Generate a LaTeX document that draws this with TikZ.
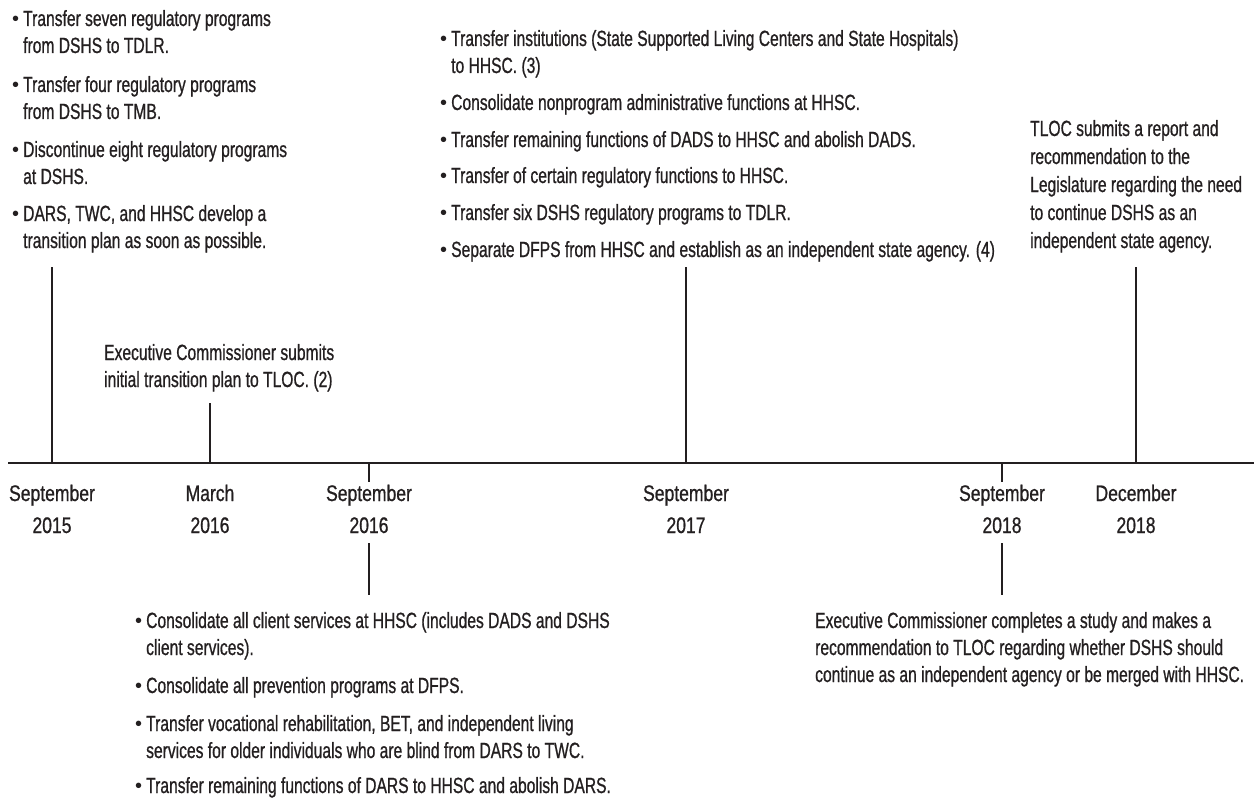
\documentclass[tikz,border=0pt]{standalone}
\usepackage{fontspec}
\setmainfont{Liberation Sans}[FakeStretch=0.71,FakeBold=0.8]
\newfontfamily\datefont{Liberation Sans}[FakeStretch=0.78,FakeBold=0.8]
\newfontfamily\bulfont{Liberation Sans}
\definecolor{ink}{HTML}{231F20}
\newcommand\mybul{\makebox[0pt][r]{{\bulfont\fontsize{20}{20}\selectfont\raisebox{0.5pt}{•}}\hspace{4pt}}}
\newcommand\mylines[1]{\begin{tabular}[t]{@{}l@{}}#1\end{tabular}}
\tikzset{
  txt/.style={anchor=base west, inner sep=0pt, text=ink, font=\fontsize{22}{27}\selectfont},
  txtw/.style={anchor=base west, inner sep=0pt, text=ink, font=\fontsize{22}{28}\selectfont},
  datelbl/.style={anchor=base, inner sep=0pt, text=ink, font=\datefont\fontsize{22.5}{27}\selectfont},
  tickline/.style={draw=ink, line width=2pt},
  axisline/.style={draw=ink, line width=2.2pt}
}
\begin{document}
\begin{tikzpicture}[x=1pt,y=-1pt]
\useasboundingbox (0,0) rectangle (1254,800);
% axis
\coordinate (ax0) at (8,463);
\coordinate (ax1) at (1254,463);
\draw[axisline] (ax0) -- (ax1);
% tick points on the axis
\coordinate (s15) at (52,463);
\coordinate (m16) at (210,463);
\coordinate (s16) at (369,463);
\coordinate (s17) at (686,463);
\coordinate (s18) at (1002,463);
\coordinate (d18) at (1136,463);
% tick free ends
\coordinate (s15t) at (52,267);
\coordinate (m16t) at (210,403);
\coordinate (s17t) at (686,267);
\coordinate (d18t) at (1136,267);
\coordinate (s16a) at (369,482);
\coordinate (s16b) at (369,543);
\coordinate (s16c) at (369,595);
\coordinate (s18a) at (1002,482);
\coordinate (s18b) at (1002,543);
\coordinate (s18c) at (1002,595);
\draw[tickline] (s15) -- (s15t);
\draw[tickline] (m16) -- (m16t);
\draw[tickline] (s17) -- (s17t);
\draw[tickline] (d18) -- (d18t);
\draw[tickline] (s16) -- (s16a);
\draw[tickline] (s16b) -- (s16c);
\draw[tickline] (s18) -- (s18a);
\draw[tickline] (s18b) -- (s18c);
% date labels
\node[datelbl] (mo1) at (52,501) {September};
\node[datelbl] (yr1) at (52,533) {2015};
\node[datelbl] (mo2) at (210,501) {March};
\node[datelbl] (yr2) at (210,533) {2016};
\node[datelbl] (mo3) at (369,501) {September};
\node[datelbl] (yr3) at (369,533) {2016};
\node[datelbl] (mo4) at (686,501) {September};
\node[datelbl] (yr4) at (686,533) {2017};
\node[datelbl] (mo5) at (1002,501) {September};
\node[datelbl] (yr5) at (1002,533) {2018};
\node[datelbl] (mo6) at (1136,501) {December};
\node[datelbl] (yr6) at (1136,533) {2018};
% top left block (September 2015)
\node[txt] (l1) at (23,26) {\mylines{\mybul Transfer seven regulatory programs\\from DSHS to TDLR.}};
\node[txt] (l2) at (23,92) {\mylines{\mybul Transfer four regulatory programs\\from DSHS to TMB.}};
\node[txt] (l3) at (23,157) {\mylines{\mybul Discontinue eight regulatory programs\\at DSHS.}};
\node[txt] (l4) at (23,221) {\mylines{\mybul DARS, TWC, and HHSC develop a\\transition plan as soon as possible.}};
% March 2016
\node[txt] (ex1) at (104,360) {\mylines{Executive Commissioner submits\\initial transition plan to TLOC. (2)}};
% September 2017
\node[txt] (m1) at (451,46) {\mylines{\mybul Transfer institutions (State Supported Living Centers and State Hospitals)\\to HHSC. (3)}};
\node[txt] (m2) at (451,110) {\mybul Consolidate nonprogram administrative functions at HHSC.};
\node[txt] (m3) at (451,147) {\mybul Transfer remaining functions of DADS to HHSC and abolish DADS.};
\node[txt] (m4) at (451,183) {\mybul Transfer of certain regulatory functions to HHSC.};
\node[txt] (m5) at (451,220) {\mybul Transfer six DSHS regulatory programs to TDLR.};
\node[txt] (m6) at (451,257) {\mybul Separate DFPS from HHSC and establish as an independent state agency. (4)};
% December 2018
\node[txtw] (tl) at (1030,136) {\mylines{TLOC submits a report and\\recommendation to the\\Legislature regarding the need\\to continue DSHS as an\\independent state agency.}};
% September 2016
\node[txt] (b1) at (146,628) {\mylines{\mybul Consolidate all client services at HHSC (includes DADS and DSHS\\client services).}};
\node[txt] (b2) at (146,693) {\mybul Consolidate all prevention programs at DFPS.};
\node[txt] (b3) at (146,731) {\mylines{\mybul Transfer vocational rehabilitation, BET, and independent living\\services for older individuals who are blind from DARS to TWC.}};
\node[txt] (b4) at (146,793) {\mybul Transfer remaining functions of DARS to HHSC and abolish DARS.};
% September 2018
\node[txt] (ec) at (815,628) {\mylines{Executive Commissioner completes a study and makes a\\recommendation to TLOC regarding whether DSHS should\\continue as an independent agency or be merged with HHSC.}};
\end{tikzpicture}
\end{document}
